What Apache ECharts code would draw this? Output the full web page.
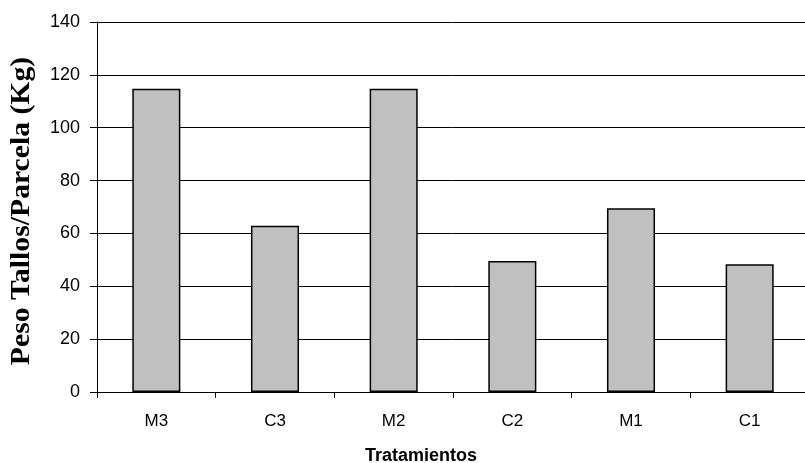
<!DOCTYPE html>
<html><head><meta charset="utf-8">
<script src="https://cdn.jsdelivr.net/npm/echarts@6/dist/echarts.min.js"></script>
<style>html,body{margin:0;padding:0;background:#fff}#c{width:805px;height:463px}</style>
</head><body><div id="c"></div>
<script>
const categories = ['M3', 'C3', 'M2', 'C2', 'M1', 'C1'];
const values = [114.7, 62.9, 114.7, 49.6, 69.5, 48.3];
const yTicks = [0, 20, 40, 60, 80, 100, 120, 140];
const xTitle = 'Tratamientos';
const yTitle = 'Peso Tallos/Parcela (Kg)';

const chart = echarts.init(document.getElementById('c'));
chart.setOption({
  animation: false,
  backgroundColor: '#ffffff',
  grid: { left: 97, top: 22, right: -4, bottom: 71, containLabel: false, outerBoundsMode: 'none' },
  xAxis: {
    type: 'category', data: categories,
    axisLine: { show: true, lineStyle: { color: '#000', width: 1 } },
    axisTick: { show: true, alignWithLabel: false, length: 6, lineStyle: { color: '#000' } },
    axisLabel: { color: '#000', fontFamily: 'Liberation Sans, Arial', fontSize: 17, margin: 21 },
    name: xTitle, nameLocation: 'middle', nameGap: 55,
    nameTextStyle: { color: '#000', fontFamily: 'Liberation Sans, Arial', fontSize: 18, fontWeight: 'bold', padding: [0, 64, 0, 0] }
  },
  yAxis: {
    type: 'value', min: yTicks[0], max: yTicks[yTicks.length - 1], interval: 20,
    axisLine: { show: true, lineStyle: { color: '#000', width: 1 } },
    axisTick: { show: true, length: 7, lineStyle: { color: '#000' } },
    axisLabel: { color: '#000', fontFamily: 'Liberation Sans, Arial', fontSize: 18, margin: 17 },
    splitLine: { show: true, lineStyle: { color: '#000', width: 1 } }
  },
  graphic: [{
    type: 'text', x: 22, y: 211, rotation: Math.PI / 2, scaleX: 1.06,
    style: { text: yTitle, fill: '#000', font: 'bold 28px "Liberation Serif", "Times New Roman", serif', textAlign: 'center', textVerticalAlign: 'middle' }
  }],
  series: [{
    type: 'bar', data: values, barWidth: '40.5%',
    itemStyle: { color: '#c0c0c0', borderColor: '#000', borderWidth: 1.5 }
  }]
});
</script></body></html>
